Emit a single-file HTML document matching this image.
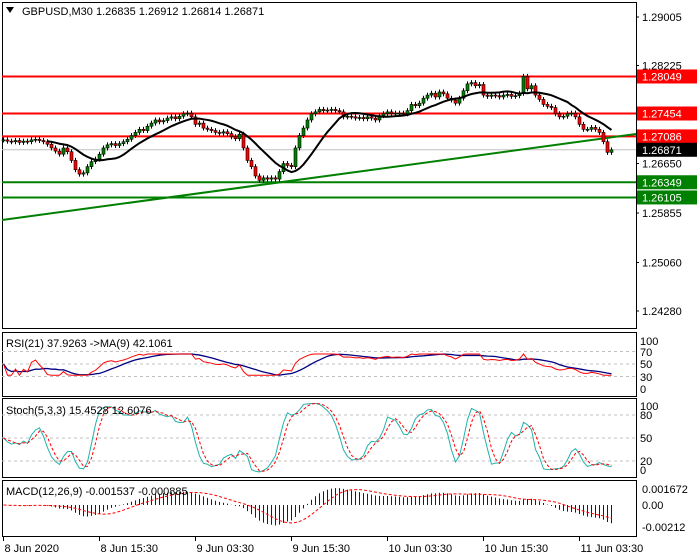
<!DOCTYPE html>
<html><head><meta charset="utf-8"><style>
body{margin:0;background:#fff;}
svg{display:block;font-family:"Liberation Sans",sans-serif;font-size:11px;}
</style></head><body>
<svg id="c" width="700" height="560" xmlns="http://www.w3.org/2000/svg"></svg>
<script>
const closes=[1.2703,1.2701,1.2700,1.2702,1.2699,1.2701,1.2700,1.2703,1.2704,1.2702,
1.2700,1.2696,1.2690,1.2685,1.2680,1.2690,1.2684,1.2670,1.2655,1.2648,
1.2650,1.2660,1.2668,1.2672,1.2680,1.2690,1.2695,1.2697,1.2694,1.2697,
1.2700,1.2704,1.2710,1.2715,1.2720,1.2718,1.2725,1.2730,1.2735,1.2732,
1.2734,1.2738,1.2740,1.2737,1.2741,1.2745,1.2746,1.2740,1.2728,1.2730,
1.2722,1.2720,1.2718,1.2715,1.2714,1.2716,1.2713,1.2708,1.2705,1.2712,
1.2690,1.2670,1.2660,1.2645,1.2638,1.2642,1.2640,1.2642,1.2640,1.2652,
1.2665,1.2662,1.2660,1.2690,1.2710,1.2722,1.2735,1.2745,1.2748,1.2752,
1.2750,1.2751,1.2752,1.2750,1.2748,1.2740,1.2741,1.2740,1.2738,1.2739,
1.2737,1.2740,1.2738,1.2735,1.2742,1.2745,1.2748,1.2745,1.2746,1.2746,
1.2745,1.2750,1.2760,1.2758,1.2762,1.2770,1.2775,1.2778,1.2772,1.2780,
1.2777,1.2770,1.2767,1.2762,1.2770,1.2782,1.2793,1.2795,1.2790,1.2792,
1.2775,1.2773,1.2775,1.2774,1.2772,1.2775,1.2776,1.2773,1.2774,1.2778,
1.2805,1.2785,1.2790,1.2775,1.2768,1.2760,1.2757,1.2755,1.2745,1.2740,
1.2741,1.2745,1.2746,1.2740,1.2728,1.2720,1.2720,1.2723,1.2720,1.2715,
1.2700,1.2683,1.2687];
const priceTicks=[1.29005,1.28225,1.26650,1.25855,1.25060,1.24280];
const resLevels=[1.28049,1.27454,1.27086];
const supLevels=[1.26349,1.26105];
const lastPrice=1.26871;
const trendStart=1.25742, trendEnd=1.27125;
const timeLabels=["8 Jun 2020","8 Jun 15:30","9 Jun 03:30","9 Jun 15:30","10 Jun 03:30","10 Jun 15:30","11 Jun 03:30"];
const timeIdx=[0,24,48,72,96,120,144];
const rsiTicks=[100,70,50,30,0];
const stochTicks=[100,80,50,20,0];
const macdTicks=[0.001672,0,-0.00212];

const S=document.getElementById('c');
const NS='http://www.w3.org/2000/svg';
function el(t,a,p){const e=document.createElementNS(NS,t);for(const k in a)e.setAttribute(k,a[k]);(p||S).appendChild(e);return e;}
const X=i=>3.5+i*4;
const Y=p=>17+(1.29005-p)*6222;
const YR=v=>364-(v-50)*0.625;
const YS=v=>438-(v-50)*0.767;
const YM=v=>505-v*9570;
const R=636;

[[2,2,328],[2,332,396],[2,398,477],[2,480,536]].forEach((f,k)=>{
 const r=el('rect',{x:f[0]+0.5,y:f[1]+0.5,width:R-f[0],height:f[2]-f[1],fill:'#fff',stroke:'#000','stroke-width':1});
 
 
});
priceTicks.forEach(p=>{const t=el('text',{x:642,y:Y(p)+4,fill:'#000'});t.textContent=p.toFixed(5);

el('line',{x1:R,x2:R+3,y1:Y(p),y2:Y(p),stroke:'#000'});});
resLevels.forEach(p=>{const l=el('line',{x1:2,x2:R,y1:Y(p),y2:Y(p),stroke:'#f00','stroke-width':2});
});
supLevels.forEach(p=>{const l=el('line',{x1:2,x2:R,y1:Y(p),y2:Y(p),stroke:'#008000','stroke-width':2});
});
const gl=el('line',{x1:2,x2:R,y1:Y(lastPrice),y2:Y(lastPrice),stroke:'#c0c0c0'});

const tl=el('line',{x1:2,x2:R,y1:Y(trendStart),y2:Y(trendEnd),stroke:'#008000','stroke-width':2});


const opens=closes.map((c,i)=>i?closes[i-1]:c);
const highs=closes.map((c,i)=>Math.max(c,opens[i])+0.0004);
const lows=closes.map((c,i)=>Math.min(c,opens[i])-0.0004);
closes.forEach((c,i)=>{const o=opens[i],x=X(i);
 const w=el('line',{x1:x,x2:x,y1:Y(highs[i]),y2:Y(lows[i]),stroke:'#000'});
 
 const top=Y(Math.max(o,c)),h=Math.max(1,Y(Math.min(o,c))-top);
 const b=el('rect',{x:x-1.5,y:top,width:3,height:h,fill:c>=o?'#008000':'#f00',stroke:'#000','stroke-width':0.6});
 });
function sma(a,n){return a.map((v,i)=>{if(i<n-1)return null;let s=0;for(let j=i-n+1;j<=i;j++)s+=a[j];return s/n;});}
function ema(a,n){const k=2/(n+1);let r=[];a.forEach((v,i)=>r.push(i?v*k+r[i-1]*(1-k):v));return r;}
const ma=sma(closes,12);
const pts=ma.map((v,i)=>v==null?null:X(i)+','+Y(v)).filter(Boolean).join(' ');
const mal=el('polyline',{points:pts,fill:'none',stroke:'#000','stroke-width':2});


function box(p,col,name){const g=el('g',{});
 el('rect',{x:637,y:Y(p)-7,width:60,height:14,fill:col},g);
 const t=el('text',{x:642,y:Y(p)+4,fill:'#fff'},g);t.textContent=p.toFixed(5);}
resLevels.forEach(p=>box(p,'#f00','resistance-label'));
supLevels.forEach(p=>box(p,'#008000','support-label'));
box(lastPrice,'#000','last-price-label');
const tt=el('text',{x:22,y:15,fill:'#000'});tt.textContent='GBPUSD,M30  1.26835 1.26912 1.26814 1.26871';

el('path',{d:'M6,7 L14,7 L10,13 Z',fill:'#000'});

function rsi(a,n){let g=0,l=0,out=[];a.forEach((v,i)=>{if(!i){out.push(50);return;}const d=v-a[i-1];
 g=(g*(n-1)+Math.max(d,0))/n;l=(l*(n-1)+Math.max(-d,0))/n;out.push(l===0?55:100-100/(1+g/l));});return out;}
const rs=rsi(closes,21).map(v=>Math.min(66,Math.max(32,v)));
const rsm=rs.map((v,i)=>{let s=0,c=0;for(let j=Math.max(0,i-8);j<=i;j++){s+=rs[j];c++;}return s/c;});
[70,50,30].forEach(v=>el('line',{x1:2,x2:R,y1:YR(v),y2:YR(v),stroke:'#c0c0c0','stroke-dasharray':'3,3'}));
let p1=el('polyline',{points:rsm.map((v,i)=>X(i)+','+YR(v)).join(' '),fill:'none',stroke:'#000080','stroke-width':1.3});

p1=el('polyline',{points:rs.map((v,i)=>X(i)+','+YR(v)).join(' '),fill:'none',stroke:'#f00','stroke-width':1});

let t=el('text',{x:6,y:347});t.textContent='RSI(21) 37.9263  ->MA(9) 42.1061';

rsiTicks.forEach((v,k)=>{const y=[345,356,368,381,393][k];const tx=el('text',{x:640,y:y});tx.textContent=v;
});

const k5=closes.map((c,i)=>{let hh=-1,ll=9;for(let j=Math.max(0,i-4);j<=i;j++){hh=Math.max(hh,highs[j]);ll=Math.min(ll,lows[j]);}return 100*(c-ll)/(hh-ll);});
const ks=k5.map((v,i)=>{let s=0,c=0;for(let j=Math.max(0,i-2);j<=i;j++){s+=k5[j];c++;}return s/c;});
const ds=ks.map((v,i)=>{let s=0,c=0;for(let j=Math.max(0,i-2);j<=i;j++){s+=ks[j];c++;}return s/c;});
[80,50,20].forEach(v=>el('line',{x1:2,x2:R,y1:YS(v),y2:YS(v),stroke:'#c0c0c0','stroke-dasharray':'3,3'}));
p1=el('polyline',{points:ks.map((v,i)=>X(i)+','+YS(v)).join(' '),fill:'none',stroke:'#20b2aa','stroke-width':1});

p1=el('polyline',{points:ds.map((v,i)=>X(i)+','+YS(v)).join(' '),fill:'none',stroke:'#f00','stroke-dasharray':'3,2'});

t=el('text',{x:6,y:414});t.textContent='Stoch(5,3,3) 15.4528 12.6076';

stochTicks.forEach((v,k)=>{const y=[410,419,442,465,474][k];const tx=el('text',{x:640,y:y});tx.textContent=v;
});

const e12=ema(closes,12),e26=ema(closes,26);
const macd=closes.map((c,i)=>Math.max(-0.0028,Math.min(0.0018,e12[i]-e26[i])));
const sig=sma(macd,9).map((v,i)=>v==null?macd[i]:v);
macd.forEach((v,i)=>{const b=el('line',{x1:X(i),x2:X(i),y1:YM(0),y2:YM(v),stroke:'#0000ff'});
 });
p1=el('polyline',{points:sig.map((v,i)=>X(i)+','+YM(v)).join(' '),fill:'none',stroke:'#f00','stroke-dasharray':'3,2'});

t=el('text',{x:6,y:495});t.textContent='MACD(12,26,9) -0.001537 -0.000885';

macdTicks.forEach((v,k)=>{const y=[493,509,531][k];const tx=el('text',{x:642,y:y});tx.textContent=v===0?'0.00':String(v);
});

timeLabels.forEach((s,k)=>{const x=X(timeIdx[k]);el('line',{x1:x,x2:x,y1:536,y2:541,stroke:'#000'});
 const tx=el('text',{x:x+1,y:552});tx.textContent=s;
 });
</script>
</body></html>
